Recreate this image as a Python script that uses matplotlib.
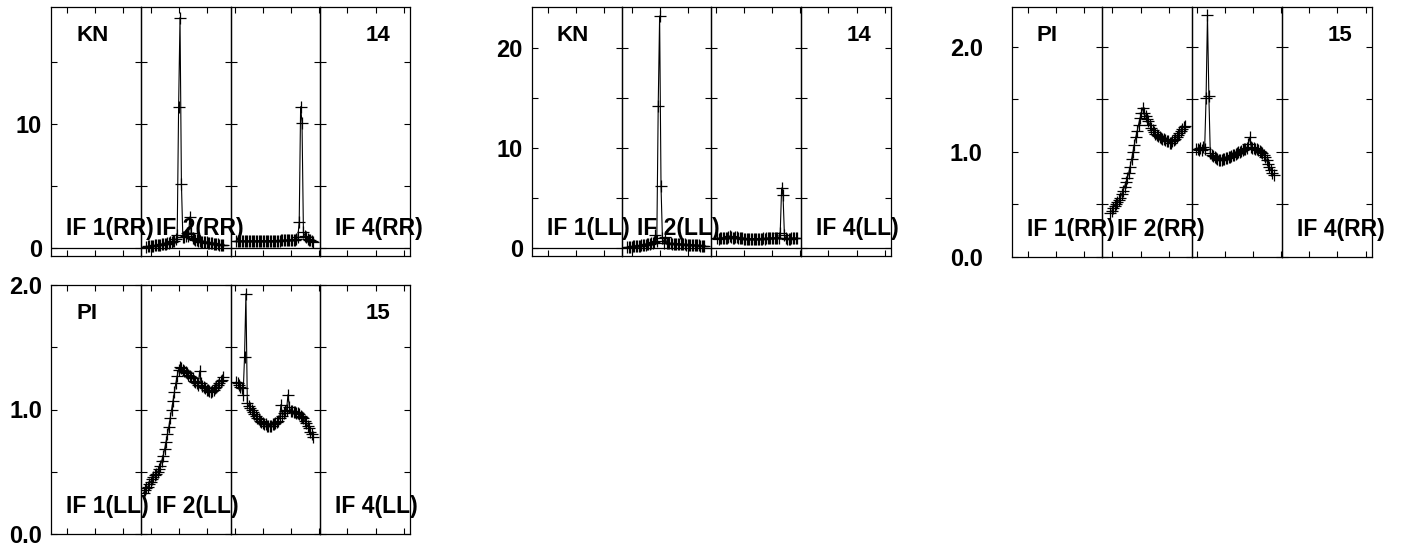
import numpy as np
import matplotlib
matplotlib.use("Agg")
import matplotlib.pyplot as plt
from matplotlib.ticker import FixedLocator, MultipleLocator, FormatStrFormatter

plt.rcParams['font.family'] = ['Liberation Sans', 'DejaVu Sans']
plt.rcParams['font.weight'] = 'bold'

# ---------------- data (channel index start, values) ----------------
n_chan = 64
if_names = ["IF 1", "IF 2", "IF 3", "IF 4"]
if_labels_shown = [0, 1, 3]

kn_rr_if2_ch0 = 4
kn_rr_if2 = [0.10, 0.12, 0.14, 0.15, 0.17, 0.18, 0.20, 0.21, 0.23, 0.25, 0.27, 0.28,
             0.30, 0.33, 0.35, 0.38, 0.42, 0.46, 0.50, 0.55, 0.60, 0.70,
             1.05, 11.4, 18.6, 5.2, 0.90, 0.85, 1.00, 1.20, 0.95, 2.50, 1.20, 0.80,
             0.70, 0.66, 0.62, 0.58, 0.55, 0.52, 0.50, 0.48, 0.46, 0.44, 0.42, 0.40,
             0.38, 0.36, 0.34, 0.32, 0.30, 0.28, 0.26, 0.25, 0.24, 0.22]
kn_rr_if3_ch0 = 4
kn_rr_if3 = [0.55, 0.56, 0.55, 0.56, 0.57, 0.56, 0.56, 0.57, 0.57, 0.56, 0.57, 0.57,
             0.58, 0.57, 0.57, 0.58, 0.58, 0.57, 0.58, 0.58, 0.58, 0.58, 0.59, 0.58,
             0.59, 0.59, 0.59, 0.59, 0.60, 0.60, 0.60, 0.60, 0.61, 0.61, 0.61, 0.62,
             0.62, 0.63, 0.63, 0.64, 0.65, 0.66, 0.68, 0.72,
             0.85, 2.1, 11.4, 10.1, 1.3, 1.0, 0.85, 0.75, 0.68, 0.62, 0.55, 0.48]

kn_ll_if2_ch0 = 4
kn_ll_if2 = [0.10, 0.12, 0.13, 0.15, 0.16, 0.18, 0.20, 0.21, 0.23, 0.25, 0.27, 0.29,
             0.31, 0.34, 0.37, 0.40, 0.45, 0.50, 0.55, 0.65, 1.30, 0.70, 14.2, 23.2,
             6.2, 1.00, 0.55, 1.10, 0.55, 0.50, 0.48, 0.46, 0.45, 0.44, 0.43, 0.42,
             0.41, 0.40, 0.39, 0.38, 0.37, 0.36, 0.35, 0.34, 0.33, 0.32, 0.31, 0.30,
             0.29, 0.28, 0.27, 0.26, 0.25, 0.24, 0.23, 0.22]
kn_ll_if3_ch0 = 4
kn_ll_if3 = [1.00, 0.95, 0.98, 1.02, 0.97, 1.00, 1.05, 0.98, 1.10, 1.20, 1.10, 1.05,
             1.00, 1.08, 1.15, 1.05, 1.00, 0.98, 0.96, 0.95, 0.95, 0.94, 0.95, 0.94,
             0.94, 0.95, 0.94, 0.93, 0.94, 0.94, 0.95, 0.94, 0.95, 0.96, 0.95, 0.96,
             0.97, 0.98, 0.99, 1.00, 1.01, 1.02, 1.03, 1.04, 1.05, 1.5, 6.0, 5.3,
             1.3, 1.0, 0.95, 0.92, 0.95, 0.98, 1.00, 0.97, 1.00, 1.02]

pi_rr_if2_ch0 = 6
pi_rr_if2 = [0.42, 0.44, 0.47, 0.49, 0.50, 0.52, 0.54, 0.56, 0.60, 0.63, 0.67, 0.71,
             0.75, 0.80, 0.86, 0.93, 1.00, 1.07, 1.14, 1.20, 1.26, 1.32, 1.37, 1.42,
             1.37, 1.34, 1.31, 1.29, 1.26, 1.23, 1.21, 1.19, 1.17, 1.16, 1.15, 1.14,
             1.13, 1.12, 1.12, 1.11, 1.10, 1.10, 1.09, 1.09, 1.10, 1.11, 1.12, 1.14,
             1.16, 1.18, 1.20, 1.22, 1.24, 1.25]
pi_rr_if3_ch0 = 3
pi_rr_if3 = [1.03, 1.03, 1.02, 1.04, 1.02, 1.05, 1.03, 1.51, 2.30, 1.53, 0.99, 0.97,
             0.96, 0.95, 0.94, 0.93, 0.92, 0.92, 0.92, 0.93, 0.93, 0.94, 0.94, 0.95,
             0.95, 0.96, 0.97, 0.97, 0.98, 0.99, 1.00, 1.00, 1.01, 1.02, 1.03, 1.03,
             1.04, 1.08, 1.14, 1.05, 1.04, 1.04, 1.03, 1.03, 1.02, 1.01, 1.00, 0.99,
             0.97, 0.95, 0.92, 0.89, 0.86, 0.83, 0.80, 0.78]

pi_ll_if2_ch0 = 2
pi_ll_if2 = [0.33, 0.35, 0.37, 0.38, 0.40, 0.42, 0.44, 0.46, 0.47, 0.48, 0.50, 0.52,
             0.55, 0.59, 0.63, 0.68, 0.74, 0.80, 0.86, 0.93, 1.00, 1.07, 1.14, 1.21,
             1.27, 1.32, 1.34, 1.33, 1.32, 1.31, 1.30, 1.29, 1.28, 1.27, 1.26, 1.25,
             1.23, 1.22, 1.21, 1.20, 1.31, 1.21, 1.19, 1.18, 1.17, 1.16, 1.16, 1.15,
             1.14, 1.15, 1.16, 1.17, 1.18, 1.20, 1.21, 1.23, 1.24, 1.26]
pi_ll_if3_ch0 = 4
pi_ll_if3 = [1.22, 1.21, 1.20, 1.18, 1.17, 1.12, 1.42, 1.93, 1.05, 1.03, 1.01, 1.00,
             0.98, 0.96, 0.95, 0.93, 0.92, 0.91, 0.90, 0.89, 0.88, 0.88, 0.87, 0.87,
             0.87, 0.87, 0.88, 0.88, 0.89, 0.90, 0.91, 0.93, 1.04, 0.95, 0.97, 0.99,
             1.00, 1.12, 1.02, 0.99, 0.99, 0.98, 0.98, 0.97, 0.97, 0.96, 0.95, 0.94,
             0.93, 0.91, 0.89, 0.87, 0.85, 0.82, 0.80, 0.78]

panels = [
    dict(src="KN", num="14", pol="RR",
         series={1: (kn_rr_if2_ch0, kn_rr_if2), 2: (kn_rr_if3_ch0, kn_rr_if3)},
         ylim=(-0.65, 19.45), major=10, minor=5, fmt="%d", zero=True,
         rect_px=(51, 7, 410, 256), label_pad=6.5),
    dict(src="KN", num="14", pol="LL",
         series={1: (kn_ll_if2_ch0, kn_ll_if2), 2: (kn_ll_if3_ch0, kn_ll_if3)},
         ylim=(-0.8, 24.1), major=10, minor=5, fmt="%d", zero=True,
         rect_px=(532, 7, 891, 256), label_pad=6.5),
    dict(src="PI", num="15", pol="RR",
         series={1: (pi_rr_if2_ch0, pi_rr_if2), 2: (pi_rr_if3_ch0, pi_rr_if3)},
         ylim=(0.0, 2.38), major=1.0, minor=0.5, fmt="%.1f", zero=False,
         rect_px=(1012, 7, 1372, 257), label_pad=21),
    dict(src="PI", num="15", pol="LL",
         series={1: (pi_ll_if2_ch0, pi_ll_if2), 2: (pi_ll_if3_ch0, pi_ll_if3)},
         ylim=(0.0, 2.0), major=1.0, minor=0.5, fmt="%.1f", zero=False,
         rect_px=(51, 285, 410, 534), label_pad=6.5),
]

W, H = 1406, 552
fig = plt.figure(figsize=(W / 100, H / 100), dpi=100)

xticks = np.arange(11.4, 4 * n_chan, 20)
fs = 16
tick_fs = 17

for p in panels:
    x0, y0, x1, y1 = p["rect_px"]
    sub_w = (x1 - x0) / 4.0
    ph = y1 - y0
    axes = []
    for i in range(4):
        left = (x0 + i * sub_w) / W
        bottom = 1 - y1 / H
        ax = fig.add_axes([left, bottom, sub_w / W, ph / H])
        ax.patch.set_visible(False)
        axes.append(ax)
        ax.set_xlim(i * n_chan, (i + 1) * n_chan)
        ax.set_ylim(*p["ylim"])
        ax.xaxis.set_major_locator(FixedLocator(xticks))
        ax.yaxis.set_major_locator(MultipleLocator(p["major"]))
        ax.yaxis.set_minor_locator(MultipleLocator(p["minor"]))
        ax.yaxis.set_major_formatter(FormatStrFormatter(p["fmt"]))
        ax.tick_params(axis="x", which="both", direction="in", top=True, bottom=True,
                       labelbottom=False, length=4, width=0.8)
        ax.tick_params(axis="y", which="both", direction="in", left=True, right=True,
                       labelleft=(i == 0), length=4.5, width=0.8, labelsize=tick_fs,
                       pad=p["label_pad"])
        for s in ax.spines.values():
            s.set_linewidth(0.9)
            s.set_color("black")
        if p["zero"]:
            ax.axhline(0, color="black", lw=0.9)
        if i in p["series"]:
            ch0, vals = p["series"][i]
            xs = i * n_chan + ch0 + np.arange(len(vals))
            ax.plot(xs, vals, color="black", lw=0.8, marker="+", ms=8, mew=0.9)
    # labels drawn at figure level so neighbouring axes do not hide them
    for i in if_labels_shown:
        fig.text((x0 + i * sub_w + 15) / W, 1 - (y1 - 21) / H,
                 f"{if_names[i]}({p['pol']})", ha="left", va="baseline",
                 fontsize=16.5, fontweight="bold", zorder=10)
    fig.text((x0 + 25) / W, 1 - (y0 + 34) / H, p["src"], ha="left", va="baseline",
             fontsize=fs, fontweight="bold", zorder=10)
    fig.text((x1 - 20) / W, 1 - (y0 + 34) / H, p["num"], ha="right", va="baseline",
             fontsize=fs, fontweight="bold", zorder=10)

fig.savefig("out.png", dpi=100)
